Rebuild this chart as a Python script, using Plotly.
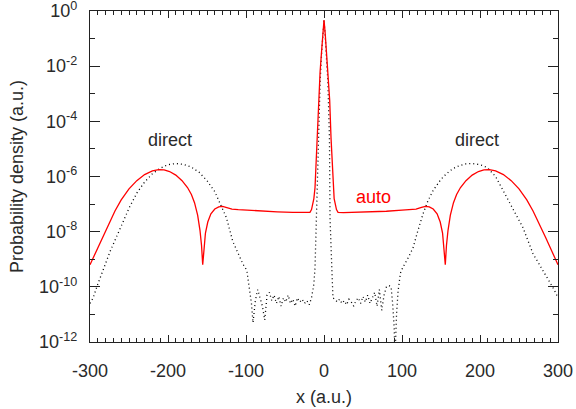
import numpy as np
import plotly.graph_objects as go

# ---- data (log10 of probability density) ----
auto_x_half = [-300, -292, -284, -276, -268, -260, -250, -240, -230, -220, -212, -205,
               -198, -190, -182, -175, -170, -166, -162, -159, -157, -155.5, -154, -152,
               -149, -145, -140, -135, -130, -125, -118, -110, -100, -80, -60, -40, -25,
               -18, -16, -13, -11.5, -9, -7.3, -5, -3, -1.5, 0]
auto_log_half = [-9.2, -8.7, -8.2, -7.7, -7.25, -6.85, -6.45, -6.15, -5.93, -5.8, -5.75, -5.76,
                 -5.82, -5.95, -6.15, -6.4, -6.65, -6.95, -7.4, -7.95, -8.5, -9.2, -8.6, -8.05,
                 -7.65, -7.35, -7.18, -7.1, -7.08, -7.12, -7.18, -7.2, -7.22, -7.26, -7.28, -7.3, -7.31,
                 -7.3, -7.2, -6.8, -6.4, -4.6, -3.24, -2.2, -1.42, -0.8, -0.33]

direct_x = [-300, -296, -290, -280, -274, -260, -250, -240, -230, -220, -210, -200, -190,
            -180, -170, -160, -150, -140, -133, -125, -117, -110, -104, -99, -95, -93, -91,
            -88, -85, -82, -79, -76, -73, -70, -67, -64, -61, -58, -55, -52, -49, -46, -43,
            -40, -37, -34, -31, -28, -25, -22, -19, -16, -13, -11.5, -9, -7, -5, -3, -1.5, 0,
            1.5, 3, 5, 7, 7.7, 10, 11.5, 14, 17, 20, 23, 26, 29, 32, 35, 38, 41, 44, 47, 50,
            53, 56, 59, 62, 65, 68, 71, 74, 77, 80, 83, 86, 88, 90, 91, 93, 95, 98, 101, 107,
            114, 120, 127, 133, 140, 150, 157, 165, 174, 182, 190, 200, 209, 220, 234, 245,
            255, 268, 286, 295, 300]
direct_log = [-10.6, -10.4, -9.9, -9.1, -8.7, -7.8, -7.15, -6.6, -6.2, -5.9, -5.7, -5.57, -5.53,
              -5.56, -5.66, -5.85, -6.15, -6.55, -7.0, -7.5, -8.35, -8.8, -9.17, -9.4, -10.1, -10.6, -11.3,
              -10.5, -10.1, -10.4, -10.7, -11.2, -10.3, -10.2, -10.5, -10.3, -10.6, -10.35, -10.7, -10.4, -10.55, -10.3, -10.6,
              -10.45, -10.7, -10.4, -10.55, -10.45, -10.6, -10.5, -10.65, -10.4, -9.9, -9.3, -6.87, -4.4, -2.6, -1.5, -0.9, -0.33,
              -0.9, -1.5, -2.6, -4.6, -7.5, -9.3, -10.4, -10.45, -10.55, -10.45, -10.6, -10.5, -10.65, -10.45, -10.55, -10.7, -10.5, -10.4, -10.6, -10.35,
              -10.55, -10.3, -10.6, -10.4, -10.2, -10.7, -10.1, -10.85, -10.3, -10.0, -9.95, -10.0, -10.6, -11.5, -12.6, -11.0, -10.15, -9.5, -9.3, -9.0,
              -8.6, -8.0, -7.35, -6.9, -6.5, -6.1, -5.9, -5.72, -5.6, -5.54, -5.53, -5.57, -5.67, -6.0, -6.76, -7.3,
              -7.85, -8.8, -9.67, -10.1, -10.4]

y_major_vals = [1e0, 1e-2, 1e-4, 1e-6, 1e-8, 1e-10, 1e-12]
y_major_text = ["10<sup>0</sup>", "10<sup>-2</sup>", "10<sup>-4</sup>", "10<sup>-6</sup>",
                "10<sup>-8</sup>", "10<sup>-10</sup>", "10<sup>-12</sup>"]
y_minor_vals = [1e-1, 1e-3, 1e-5, 1e-7, 1e-9, 1e-11]
x_tick_vals = [-300, -200, -100, 0, 100, 200, 300]
x_tick_text = ["-300", "-200", "-100", "0", "100", "200", "300"]

labels = [("direct", -198, -4.69, "black"), ("direct", 196, -4.69, "black"), ("auto", 64, -6.76, "red")]

# mirror the symmetric auto curve
auto_x = auto_x_half + [-v for v in auto_x_half[-2::-1]]
auto_log = auto_log_half + auto_log_half[-2::-1]
auto_y = [10 ** v for v in auto_log]
direct_y = [10 ** v for v in direct_log]

FONT = "Liberation Sans, Arial, Helvetica, sans-serif"
TXT = "#2a2a2a"
fig = go.Figure()
fig.add_trace(go.Scatter(x=direct_x, y=direct_y, mode="lines",
                         line=dict(color="black", width=1.3, dash="1px,3px"),
                         showlegend=False))
fig.add_trace(go.Scatter(x=auto_x, y=auto_y, mode="lines",
                         line=dict(color="red", width=1.3), showlegend=False))

for txt, xv, ly, col in labels:
    fig.add_annotation(x=xv, y=ly, text=txt, showarrow=False,
                       font=dict(size=18, color=col if col == "red" else TXT, family=FONT))

fig.update_layout(
    width=576, height=409,
    margin=dict(l=90, r=18, t=11, b=67, autoexpand=False),
    paper_bgcolor="white", plot_bgcolor="white",
    font=dict(family=FONT, size=18, color=TXT),
)
fig.update_xaxes(
    range=[-300, 300], tickvals=x_tick_vals, ticktext=x_tick_text, ticks="inside", ticklen=7, tickwidth=1,
    tickcolor="#222", showline=True, linecolor="#222", linewidth=1.3, mirror="allticks",
    showgrid=False, zeroline=False, ticklabelstandoff=12, automargin=False,
    ticklabeloverflow="allow",
    minor=dict(dtick=10, ticks="inside", ticklen=4, tickcolor="#222", showgrid=False),
    title=dict(text="x (a.u.)", standoff=10, font=dict(size=18)),
)
fig.update_yaxes(
    type="log", range=[-12, 0.0005], tickvals=y_major_vals, ticktext=y_major_text,
    ticks="inside", ticklen=10, tickwidth=1, tickcolor="#222", showline=True,
    linecolor="#222", linewidth=1.3, mirror="allticks", showgrid=False, zeroline=False,
    ticklabelstandoff=8, automargin=False, ticklabeloverflow="allow",
    minor=dict(tickvals=y_minor_vals, ticks="inside", ticklen=5, tickcolor="#222", showgrid=False),
    title=dict(text="Probability density (a.u.)", standoff=10, font=dict(size=18)),
)
fig.write_html("out.html", config={"displayModeBar": False},
               post_script="document.body.style.margin='0';")
